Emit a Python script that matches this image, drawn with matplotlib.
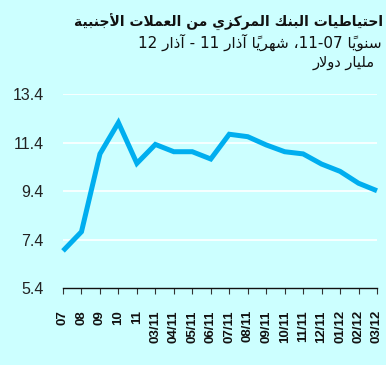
import matplotlib
matplotlib.use("Agg")
import matplotlib.pyplot as plt

# ---- data ----
categories = ["07", "08", "09", "10", "11", "03/11", "04/11", "05/11", "06/11",
              "07/11", "08/11", "09/11", "10/11", "11/11", "12/11", "01/12",
              "02/12", "03/12"]
reserves = [6.93, 7.72, 10.93, 12.22, 10.54, 11.32, 11.02, 11.02, 10.72,
            11.74, 11.64, 11.30, 11.02, 10.93, 10.51, 10.21, 9.72, 9.41]
y_ticks = [5.4, 7.4, 9.4, 11.4, 13.4]

title_1 = "احتياطيات البنك المركزي من العملات الأجنبية"
title_unit = "مليار دولار"

# ---- minimal Arabic shaping (presentation forms) ----
FORMS = {  # iso, fin, ini, med
    "\u0627": ("\uFE8D", "\uFE8E", None, None),
    "\u0623": ("\uFE83", "\uFE84", None, None),
    "\u0622": ("\uFE81", "\uFE82", None, None),
    "\u0628": ("\uFE8F", "\uFE90", "\uFE91", "\uFE92"),
    "\u0629": ("\uFE93", "\uFE94", None, None),
    "\u062A": ("\uFE95", "\uFE96", "\uFE97", "\uFE98"),
    "\u062C": ("\uFE9D", "\uFE9E", "\uFE9F", "\uFEA0"),
    "\u062D": ("\uFEA1", "\uFEA2", "\uFEA3", "\uFEA4"),
    "\u062F": ("\uFEA9", "\uFEAA", None, None),
    "\u0630": ("\uFEAB", "\uFEAC", None, None),
    "\u0631": ("\uFEAD", "\uFEAE", None, None),
    "\u0632": ("\uFEAF", "\uFEB0", None, None),
    "\u0633": ("\uFEB1", "\uFEB2", "\uFEB3", "\uFEB4"),
    "\u0634": ("\uFEB5", "\uFEB6", "\uFEB7", "\uFEB8"),
    "\u0637": ("\uFEC1", "\uFEC2", "\uFEC3", "\uFEC4"),
    "\u0639": ("\uFEC9", "\uFECA", "\uFECB", "\uFECC"),
    "\u0643": ("\uFED9", "\uFEDA", "\uFEDB", "\uFEDC"),
    "\u0644": ("\uFEDD", "\uFEDE", "\uFEDF", "\uFEE0"),
    "\u0645": ("\uFEE1", "\uFEE2", "\uFEE3", "\uFEE4"),
    "\u0646": ("\uFEE5", "\uFEE6", "\uFEE7", "\uFEE8"),
    "\u0647": ("\uFEE9", "\uFEEA", "\uFEEB", "\uFEEC"),
    "\u0648": ("\uFEED", "\uFEEE", None, None),
    "\u064A": ("\uFEF1", "\uFEF2", "\uFEF3", "\uFEF4"),
}
LAM_ALEF = {"\u0627": ("\uFEFB", "\uFEFC"), "\u0623": ("\uFEF7", "\uFEF8"),
            "\u0622": ("\uFEF5", "\uFEF6")}
MARKS = {"\u064B"}


def rtl(text):
    clusters = []
    for ch in text:
        if ch in MARKS and clusters:
            clusters[-1][1] += ch
        else:
            clusters.append([ch, ""])
    n = len(clusters)
    out = []
    i = 0

    def dual(c):
        return c in FORMS and FORMS[c][2] is not None

    while i < n:
        c, m = clusters[i]
        prev = clusters[i - 1][0] if i > 0 else None
        join_prev = prev is not None and dual(prev) and c in FORMS
        if c not in FORMS:
            out.append([c, m])
            i += 1
            continue
        if c == "\u0644" and i + 1 < n and clusters[i + 1][0] in LAM_ALEF:
            lig = LAM_ALEF[clusters[i + 1][0]][1 if join_prev else 0]
            out.append([lig, m + clusters[i + 1][1]])
            i += 2
            continue
        nxt = clusters[i + 1][0] if i + 1 < n else None
        join_next = dual(c) and nxt in FORMS
        iso, fin, ini, med = FORMS[c]
        if join_prev and join_next:
            g = med
        elif join_prev:
            g = fin
        elif join_next:
            g = ini
        else:
            g = iso
        out.append([g, m])
        i += 1
    out.reverse()
    return "".join(b + mk for b, mk in out)


title_2_visual = ("12 " + rtl("آذار") + " - 11 " + rtl("شهرياً آذار")
                  + " \u060C11-07 " + rtl("سنوياً"))

# ---- figure ----
bg = "#CCFFFF"
line_color = "#00AEEF"

fig = plt.figure(figsize=(3.86, 3.65), dpi=100, facecolor=bg)
ax = fig.add_axes([63 / 386, 77 / 365, 314 / 386, 194 / 365])
ax.set_facecolor(bg)

x = list(range(len(categories)))
ax.plot(x, reserves, color=line_color, lw=3.6, solid_joinstyle="miter",
        solid_capstyle="butt", zorder=3, clip_on=False)

ax.set_xlim(0, len(categories) - 1)
ax.set_ylim(y_ticks[0], y_ticks[-1])
ax.set_yticks(y_ticks)
ax.set_yticklabels([f"{v:.1f}" for v in y_ticks], family="Liberation Sans",
                   fontsize=11.5, color="#222222")
ax.set_xticks(x)
ax.set_xticklabels(categories, rotation=90, family="Liberation Sans",
                   fontweight="bold", fontsize=9.5, color="#111111",
                   va="top", ha="center")

for v in y_ticks[1:]:
    ax.axhline(v, color="white", lw=1.2, zorder=1)

for s in ["top", "right", "left"]:
    ax.spines[s].set_visible(False)
ax.spines["bottom"].set_color("#111111")
ax.spines["bottom"].set_linewidth(1.0)
ax.tick_params(axis="y", length=0, pad=14)
ax.tick_params(axis="x", length=4, width=0.8, color="#333333", pad=12)

fig.text(383 / 386, 1 - 22 / 365, rtl(title_1), ha="right", va="center",
         family="DejaVu Sans", fontweight="bold", fontsize=10, color="#111111")
fig.text(382 / 386, 1 - 42 / 365, title_2_visual, ha="right", va="center",
         family="DejaVu Sans", fontsize=11, color="#111111")
fig.text(375 / 386, 1 - 62 / 365, rtl(title_unit), ha="right", va="center",
         family="DejaVu Sans", fontsize=10.5, color="#111111")

fig.savefig("out.png", dpi=100, facecolor=bg)
